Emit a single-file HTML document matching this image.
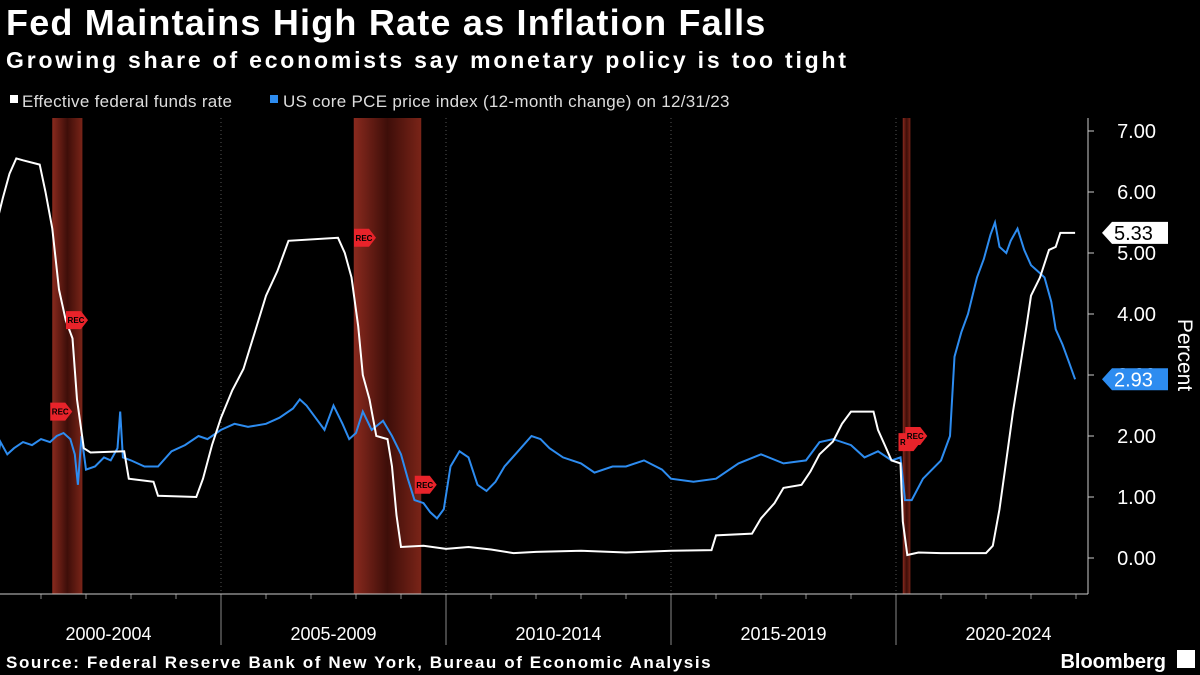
<!DOCTYPE html>
<html><head><meta charset="utf-8">
<style>
body{margin:0;background:#000;width:1200px;height:675px;overflow:hidden;font-family:"Liberation Sans",sans-serif;color:#fff}
svg{position:absolute;left:0;top:0}
</style></head>
<body>
<svg width="1200" height="675" viewBox="0 0 1200 675">
<defs>
<linearGradient id="recg" x1="0" x2="1" y1="0" y2="0">
<stop offset="0" stop-color="#8a2a1e"/><stop offset="0.5" stop-color="#3e0e09"/><stop offset="1" stop-color="#7a2418"/>
</linearGradient>
</defs>
<text x="6" y="35" font-size="36" font-weight="bold" letter-spacing="1.2" fill="#fff">Fed Maintains High Rate as Inflation Falls</text>
<text x="6" y="68" font-size="23" font-weight="bold" letter-spacing="2.8" fill="#fff">Growing share of economists say monetary policy is too tight</text>
<g>
<rect x="10" y="95" width="8" height="8" fill="#fff"/>
<text x="22" y="107" font-size="17" letter-spacing="0.3" fill="#ddd">Effective federal funds rate</text>
<rect x="270" y="95" width="8" height="8" fill="#2d8cf0"/>
<text x="283" y="107" font-size="17" letter-spacing="0.3" fill="#ddd">US core PCE price index (12-month change) on 12/31/23</text>
</g>
<g id="bands"></g>
<g id="grid"></g>
<g id="axes"></g>
<g id="lines"></g>
<g id="marks"></g>
<text x="6" y="668" font-size="17" font-weight="bold" letter-spacing="1.6" fill="#fff">Source: Federal Reserve Bank of New York, Bureau of Economic Analysis</text>
<text x="1166" y="668" font-size="20" font-weight="bold" fill="#fff" text-anchor="end">Bloomberg</text>
<rect x="1177" y="650" width="18" height="18" fill="#fff"/>
<text transform="translate(1178,355) rotate(90)" font-size="21" fill="#fff" text-anchor="middle">Percent</text>
</svg>
<script>
const yTicks=[0,1,2,3,4,5,6,7];
const periods=["2000-2004","2005-2009","2010-2014","2015-2019","2020-2024"];
const recessions=[[2001.25,2001.92],[2007.95,2009.45],[2020.15,2020.32]];
const recMarkT=[2001.8,2001.45,2008.2,2009.55,2020.3,2020.45];
const recMarkV=[3.9,2.4,5.25,1.2,1.9,2.0];
const fedT=[2000.0,2000.15,2000.3,2000.45,2000.6,2000.97,2001.1,2001.25,2001.4,2001.55,2001.7,2001.8,2001.95,2002.1,2002.85,2002.95,2003.5,2003.6,2004.45,2004.6,2004.8,2005.0,2005.25,2005.5,2005.75,2006.0,2006.25,2006.5,2007.6,2007.75,2007.9,2008.05,2008.15,2008.3,2008.45,2008.7,2008.8,2008.9,2009.0,2009.5,2010.0,2010.5,2011.0,2011.5,2012.0,2013.0,2014.0,2015.0,2015.9,2016.0,2016.8,2017.0,2017.3,2017.5,2017.9,2018.1,2018.3,2018.6,2018.8,2019.0,2019.5,2019.6,2019.75,2019.9,2020.1,2020.15,2020.25,2020.5,2021.0,2022.0,2022.15,2022.3,2022.45,2022.6,2022.75,2022.9,2023.0,2023.2,2023.4,2023.55,2023.65,2023.98];
const fedV=[5.45,5.9,6.3,6.55,6.52,6.45,6.0,5.4,4.4,3.9,3.6,2.6,1.8,1.73,1.75,1.3,1.25,1.02,1.0,1.3,1.85,2.3,2.75,3.1,3.7,4.3,4.7,5.2,5.25,5.0,4.6,3.8,3.0,2.6,2.0,1.95,1.5,0.7,0.18,0.2,0.15,0.18,0.14,0.08,0.1,0.12,0.09,0.12,0.13,0.37,0.4,0.65,0.9,1.15,1.2,1.42,1.7,1.91,2.2,2.4,2.4,2.1,1.85,1.6,1.55,0.6,0.05,0.09,0.08,0.08,0.2,0.8,1.6,2.4,3.1,3.8,4.3,4.6,5.05,5.1,5.33,5.33];
const pceT=[2000.0,2000.1,2000.25,2000.4,2000.6,2000.8,2001.0,2001.2,2001.35,2001.5,2001.65,2001.75,2001.82,2001.9,2002.0,2002.2,2002.4,2002.55,2002.7,2002.76,2002.82,2003.0,2003.3,2003.6,2003.9,2004.2,2004.5,2004.7,2005.0,2005.3,2005.6,2006.0,2006.3,2006.6,2006.75,2006.9,2007.1,2007.3,2007.5,2007.7,2007.85,2008.0,2008.15,2008.35,2008.6,2008.8,2009.0,2009.15,2009.3,2009.5,2009.65,2009.8,2009.95,2010.1,2010.3,2010.5,2010.7,2010.9,2011.1,2011.3,2011.6,2011.9,2012.1,2012.3,2012.6,2013.0,2013.3,2013.7,2014.0,2014.4,2014.8,2015.0,2015.5,2016.0,2016.5,2017.0,2017.5,2018.0,2018.3,2018.6,2019.0,2019.3,2019.6,2019.9,2020.1,2020.2,2020.35,2020.6,2020.8,2021.0,2021.2,2021.3,2021.45,2021.6,2021.8,2021.95,2022.1,2022.2,2022.3,2022.45,2022.55,2022.7,2022.85,2023.0,2023.15,2023.3,2023.45,2023.55,2023.7,2023.85,2023.98];
const pceV=[1.5,1.9,1.7,1.8,1.9,1.85,1.95,1.9,2.0,2.05,1.95,1.7,1.2,2.0,1.45,1.5,1.65,1.6,1.8,2.4,1.65,1.6,1.5,1.5,1.75,1.85,2.0,1.95,2.1,2.2,2.15,2.2,2.3,2.45,2.6,2.5,2.3,2.1,2.5,2.2,1.95,2.05,2.4,2.1,2.25,2.0,1.7,1.3,0.95,0.9,0.75,0.65,0.8,1.5,1.75,1.65,1.2,1.1,1.25,1.5,1.75,2.0,1.95,1.8,1.65,1.55,1.4,1.5,1.5,1.6,1.45,1.3,1.25,1.3,1.55,1.7,1.55,1.6,1.9,1.95,1.85,1.65,1.75,1.6,1.65,0.95,0.95,1.3,1.45,1.6,2.0,3.3,3.7,4.0,4.6,4.9,5.3,5.5,5.1,5.0,5.2,5.4,5.05,4.8,4.7,4.6,4.2,3.75,3.5,3.2,2.93];
const X=t=>-4+(t-2000)*45;
const Y=v=>558-v*61;
const NS="http://www.w3.org/2000/svg";
function mk(tag,attrs,parent,txt){const e=document.createElementNS(NS,tag);for(const k in attrs)e.setAttribute(k,attrs[k]);if(txt!==undefined)e.textContent=txt;document.getElementById(parent).appendChild(e);return e;}
recessions.forEach((r,i)=>{
 const e=mk('rect',{x:X(r[0]),y:118,width:X(r[1])-X(r[0]),height:476,fill:'url(#recg)'},'bands');
 
 
});
for(let yr=2005;yr<=2020;yr+=5){
 const g=mk('line',{x1:X(yr),x2:X(yr),y1:118,y2:594,stroke:'#555','stroke-dasharray':'1,3'},'grid');
 
 
 const d=mk('line',{x1:X(yr),x2:X(yr),y1:594,y2:645,stroke:'#888'},'axes');
 
 
}
for(let yr=2001;yr<=2024;yr++){
 const t=mk('line',{x1:X(yr),x2:X(yr),y1:594,y2:599,stroke:'#888'},'axes');
 
 
}
periods.forEach((p,i)=>{
 const t=mk('text',{x:X(2002.5+5*i),y:640,'font-size':18,fill:'#fff','text-anchor':'middle'},'axes',p);
 
 
});
const xa=mk('line',{x1:0,x2:1088,y1:594,y2:594,stroke:'#ccc'},'axes');


const ya=mk('line',{x1:1088,x2:1088,y1:118,y2:594,stroke:'#ccc'},'axes');


yTicks.forEach(v=>{
 const t=mk('line',{x1:1088,x2:1094,y1:Y(v),y2:Y(v),stroke:'#ccc'},'axes');
 
 
 const l=mk('text',{x:1156,y:Y(v)+7,'font-size':20,fill:'#fff','text-anchor':'end'},'axes',v.toFixed(2));
 
 
});
function path(T,V){return T.map((t,i)=>(i?'L':'M')+X(t).toFixed(1)+','+Y(V[i]).toFixed(1)).join('');}
const pl=mk('path',{d:path(pceT,pceV),fill:'none',stroke:'#2d8cf0','stroke-width':2},'lines');


const fl=mk('path',{d:path(fedT,fedV),fill:'none',stroke:'#fff','stroke-width':2},'lines');


recMarkT.forEach((t,i)=>{
 const cx=X(t),cy=Y(recMarkV[i]);
 const bx=cx-11,by=cy;
 const p=mk('polygon',{points:`${bx},${by-9} ${bx+15},${by-9} ${bx+22},${by} ${bx+15},${by+9} ${bx},${by+9}`,fill:'#e8232a'},'marks');
 
 
 const tx=mk('text',{x:bx+10,y:by+3,'font-size':8,'font-weight':'bold',fill:'#000','text-anchor':'middle'},'marks','REC');
 
 
});
function callout(v,fill,col,name){
 const y=Y(v);
 const p=mk('polygon',{points:`1102,${y} 1112,${y-11} 1168,${y-11} 1168,${y+11} 1112,${y+11}`,fill:fill},'marks');
 
 
 const t=mk('text',{x:1114,y:y+7,'font-size':20,fill:col},'marks',v.toFixed(2));
 
 
}
callout(fedV[fedV.length-1],'#fff','#000','fed-funds-last');
callout(pceV[pceV.length-1],'#2d8cf0','#fff','pce-last');
</script>
</body></html>
